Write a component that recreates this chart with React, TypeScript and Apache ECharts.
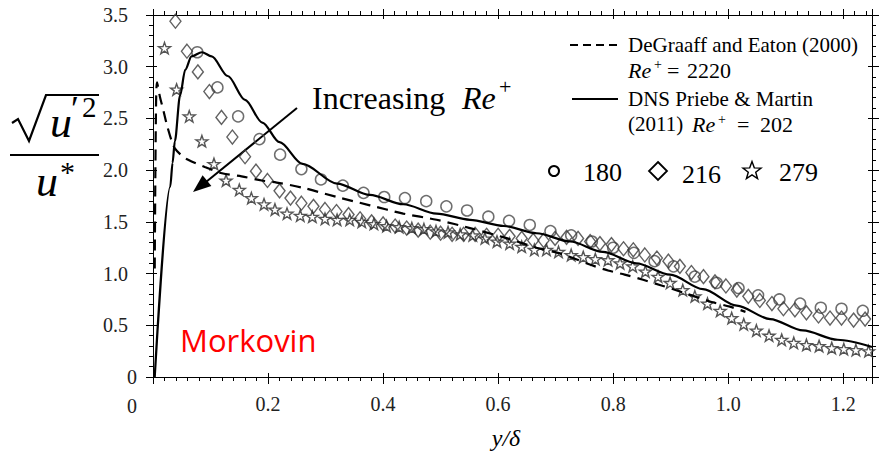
import React, { useEffect, useRef } from 'react';
import * as echarts from 'echarts';

// Experimental data, Re+ = 180 (circles)
const circle180: [number, number][] = [
  [0.077, 3.14], [0.112, 2.8], [0.148, 2.52], [0.185, 2.3], [0.221, 2.15], [0.258, 2.01],
  [0.292, 1.91], [0.33, 1.85], [0.366, 1.78], [0.402, 1.74], [0.438, 1.73], [0.475, 1.7],
  [0.51, 1.65], [0.546, 1.61], [0.583, 1.55], [0.619, 1.51], [0.655, 1.47], [0.691, 1.41],
  [0.727, 1.37], [0.763, 1.31], [0.8, 1.25], [0.836, 1.2], [0.872, 1.12], [0.905, 1.07],
  [0.942, 0.97], [0.98, 0.91], [1.018, 0.86], [1.052, 0.79], [1.089, 0.75], [1.125, 0.71],
  [1.161, 0.67], [1.197, 0.66], [1.234, 0.64],
];

// Re+ = 216 (diamonds)
const diamond216: [number, number][] = [
  [0.039, 3.44], [0.059, 3.15], [0.078, 2.95], [0.098, 2.76], [0.119, 2.51], [0.138, 2.32],
  [0.16, 2.13], [0.179, 1.99], [0.199, 1.9], [0.22, 1.8], [0.239, 1.73], [0.258, 1.68],
  [0.279, 1.65], [0.299, 1.62], [0.319, 1.6], [0.34, 1.57], [0.36, 1.53], [0.38, 1.5],
  [0.4, 1.48], [0.421, 1.46], [0.441, 1.44], [0.461, 1.42], [0.482, 1.4], [0.5, 1.39],
  [0.52, 1.38], [0.54, 1.38], [0.56, 1.38], [0.58, 1.37], [0.6, 1.37], [0.62, 1.36],
  [0.641, 1.34], [0.661, 1.32], [0.679, 1.32], [0.699, 1.34], [0.719, 1.35], [0.739, 1.34],
  [0.76, 1.31], [0.777, 1.29], [0.797, 1.28], [0.818, 1.24], [0.835, 1.23], [0.855, 1.18],
  [0.876, 1.15], [0.896, 1.12], [0.916, 1.07], [0.936, 1.01], [0.957, 0.97], [0.977, 0.92],
  [0.996, 0.88], [1.015, 0.84], [1.035, 0.78], [1.055, 0.74], [1.076, 0.71], [1.096, 0.66],
  [1.116, 0.65], [1.136, 0.62], [1.157, 0.59], [1.177, 0.57], [1.197, 0.57], [1.218, 0.55],
  [1.238, 0.56],
];

// Re+ = 279 (stars)
const star279: [number, number][] = [
  [0.02, 3.18], [0.041, 2.78], [0.063, 2.52], [0.085, 2.28], [0.106, 2.06], [0.127, 1.9],
  [0.15, 1.81], [0.171, 1.73], [0.193, 1.67], [0.212, 1.62], [0.233, 1.58], [0.256, 1.56],
  [0.277, 1.55], [0.299, 1.53], [0.32, 1.52], [0.342, 1.52], [0.363, 1.5], [0.384, 1.48],
  [0.406, 1.46], [0.428, 1.45], [0.45, 1.44], [0.471, 1.43], [0.492, 1.41], [0.513, 1.4],
  [0.534, 1.38], [0.556, 1.37], [0.577, 1.34], [0.598, 1.31], [0.62, 1.29], [0.641, 1.26],
  [0.663, 1.23], [0.684, 1.23], [0.705, 1.21], [0.727, 1.18], [0.748, 1.16], [0.769, 1.14],
  [0.791, 1.13], [0.812, 1.1], [0.834, 1.07], [0.856, 1.02], [0.878, 0.97], [0.899, 0.91],
  [0.921, 0.84], [0.942, 0.78], [0.964, 0.71], [0.986, 0.64], [1.006, 0.57], [1.027, 0.51],
  [1.049, 0.45], [1.071, 0.4], [1.093, 0.36], [1.114, 0.33], [1.136, 0.31], [1.158, 0.3],
  [1.18, 0.28], [1.201, 0.27], [1.222, 0.26], [1.244, 0.25],
];

// DNS Priebe & Martin (2011), Re+ = 202 (solid)
const dnsLine: [number, number][] = [
  [0.003, 0], [0.03, 1.84], [0.034, 2.07], [0.038, 2.28], [0.047, 2.72], [0.056, 2.97],
  [0.067, 3.1], [0.085, 3.14], [0.102, 3.1], [0.13, 2.91], [0.16, 2.68], [0.19, 2.46],
  [0.22, 2.27], [0.26, 2.06], [0.32, 1.87], [0.377, 1.76], [0.435, 1.67], [0.493, 1.58],
  [0.551, 1.52], [0.61, 1.46], [0.667, 1.39], [0.725, 1.31], [0.782, 1.21], [0.84, 1.1],
  [0.899, 0.99], [0.956, 0.85], [1.015, 0.69], [1.073, 0.56], [1.13, 0.45], [1.19, 0.36],
  [1.25, 0.29],
];

// DeGraaff and Eaton (2000), Re+ = 2220 (dashed)
const degraaffLine: [number, number][] = [
  [0.003, 1.05], [0.005, 2.5], [0.007, 2.85], [0.012, 2.71], [0.018, 2.58], [0.024, 2.44],
  [0.032, 2.29], [0.038, 2.21], [0.05, 2.14], [0.061, 2.1], [0.09, 2.03], [0.12, 1.97],
  [0.154, 1.94], [0.189, 1.9], [0.215, 1.88], [0.26, 1.83], [0.32, 1.74], [0.377, 1.66],
  [0.435, 1.58], [0.493, 1.52], [0.551, 1.44], [0.61, 1.35], [0.667, 1.25], [0.704, 1.2],
  [0.73, 1.15], [0.763, 1.08], [0.791, 1.03], [0.82, 0.99], [0.852, 0.94], [0.881, 0.89],
  [0.92, 0.82], [0.968, 0.73], [1.003, 0.68], [1.03, 0.63],
];

const X_MIN = 0;
const X_MAX = 1.25;
const X_STEP = 0.2;
const X_MINOR = 0.02;
const Y_MIN = 0;
const Y_MAX = 3.5;
const Y_STEP = 0.5;
const Y_MINOR = 0.1;

const SERIF = 'Liberation Serif';
const STAR_PATH =
  'path://M0,-95L22.3,-30.7L90.4,-29.4L36.1,11.7L55.8,76.9L0,38L-55.8,76.9L-36.1,11.7L-90.4,-29.4L-22.3,-30.7Z';

const fmtX = (v: number) => {
  if (v === 0) return '';
  const k = v / X_STEP;
  if (Math.abs(k - Math.round(k)) > 1e-6) return '';
  return v.toFixed(1);
};
const fmtY = (v: number) => (v === 0 ? '' : v.toFixed(1));

function starPoints(cx: number, cy: number, R: number, r: number) {
  const pts: number[][] = [];
  for (let i = 0; i < 10; i++) {
    const a = (-90 + i * 36) * (Math.PI / 180);
    const rr = i % 2 === 0 ? R : r;
    pts.push([cx + rr * Math.cos(a), cy + rr * Math.sin(a)]);
  }
  return pts;
}

function txt(x: number, y: number, text: string, fontSize: number, opts: any = {}) {
  const style: any = {
    text,
    fill: opts.fill || '#000',
    textAlign: opts.align || 'left',
    textVerticalAlign: 'middle',
  };
  if (opts.italic) {
    style.font = `italic ${fontSize}px Liberation Serif`;
  } else {
    style.fontSize = fontSize;
    style.fontFamily = opts.fontFamily || SERIF;
  }
  return { type: 'text', x, y, z: 10, style };
}

function mkX(position: string, interval: number, inside: boolean, length: number, showLine: boolean, labels: boolean) {
  return {
    type: 'value',
    position,
    min: X_MIN,
    max: X_MAX,
    interval,
    axisLine: { show: showLine, onZero: false, lineStyle: { color: '#000', width: 1 } },
    axisTick: { show: true, inside, length, lineStyle: { color: '#000', width: 1 } },
    axisLabel: labels
      ? { show: true, formatter: fmtX, fontFamily: SERIF, fontSize: 20, color: '#222', margin: 17 }
      : { show: false },
    splitLine: { show: false },
  };
}
function mkY(position: string, interval: number, inside: boolean, length: number, showLine: boolean, labels: boolean) {
  return {
    type: 'value',
    position,
    min: Y_MIN,
    max: Y_MAX,
    interval,
    axisLine: { show: showLine, onZero: false, lineStyle: { color: '#000', width: 1 } },
    axisTick: { show: true, inside, length, lineStyle: { color: '#000', width: 1 } },
    axisLabel: labels
      ? { show: true, formatter: fmtY, fontFamily: SERIF, fontSize: 20, color: '#222', margin: 25 }
      : { show: false },
    splitLine: { show: false },
  };
}

export default function App() {
  const ref = useRef<HTMLDivElement>(null);
  useEffect(() => {
    if (!ref.current) return;
    const chart = echarts.init(ref.current, undefined, { renderer: 'svg' });
    const markerStyle = (c: string, w: number) => ({ color: 'rgba(0,0,0,0)', borderColor: c, borderWidth: w });
    const option: any = {
      animation: false,
      backgroundColor: '#fff',
      grid: { left: 153, top: 15, right: 18, bottom: 76, containLabel: false },
      xAxis: [
        mkX('bottom', X_STEP, false, 7, true, true),
        mkX('bottom', X_STEP, true, 4, false, false),
        mkX('bottom', X_MINOR, false, 4, false, false),
        mkX('top', X_STEP, false, 6, true, false),
        mkX('top', X_STEP, true, 4, false, false),
        mkX('top', X_MINOR, false, 4, false, false),
      ],
      yAxis: [
        mkY('left', Y_STEP, false, 7, true, true),
        mkY('left', Y_STEP, true, 4, false, false),
        mkY('left', Y_MINOR, false, 4, false, false),
        mkY('right', Y_STEP, false, 7, true, false),
        mkY('right', Y_STEP, true, 4, false, false),
        mkY('right', Y_MINOR, false, 4, false, false),
      ],
      series: [
        {
          type: 'scatter',
          name: '180',
          data: circle180,
          symbol: 'circle',
          symbolSize: 11,
          itemStyle: markerStyle('#4a4a4a', 1.5),
          silent: true,
          z: 3,
        },
        {
          type: 'scatter',
          name: '216',
          data: diamond216,
          symbol: 'diamond',
          symbolSize: [11, 14],
          itemStyle: markerStyle('#3a3a3a', 1.4),
          silent: true,
          z: 3,
        },
        {
          type: 'scatter',
          name: '279',
          data: star279,
          symbol: STAR_PATH,
          symbolKeepAspect: true,
          symbolSize: 12,
          itemStyle: markerStyle('#2a2a2a', 1.4),
          silent: true,
          z: 3,
        },
        {
          type: 'line',
          name: 'DNS',
          data: dnsLine,
          showSymbol: false,
          smooth: 0.3,
          smoothMonotone: 'x',
          lineStyle: { color: '#000', width: 2.2 },
          silent: true,
          z: 4,
        },
        {
          type: 'line',
          name: 'DeGraaff',
          data: degraaffLine,
          showSymbol: false,
          smooth: 0.3,
          lineStyle: { color: '#000', width: 2.2, type: [11, 7] },
          silent: true,
          z: 4,
        },
      ],
      graphic: [
        // y-axis title: sqrt(u'^2) / u*
        {
          type: 'polyline',
          shape: { points: [[12, 123], [18, 119], [29, 141], [46, 95], [99, 95]] },
          style: { stroke: '#000', lineWidth: 2.2, fill: 'none' },
        },
        txt(50, 122, 'u', 44, { italic: true }),
        txt(71, 109, '′', 36),
        txt(82, 107, '2', 29),
        { type: 'line', shape: { x1: 10, y1: 155, x2: 99, y2: 155 }, style: { stroke: '#000', lineWidth: 2 } },
        txt(36, 181, 'u', 44, { italic: true }),
        txt(60, 171, '*', 30),
        // zero labels
        txt(132, 377, '0', 20, { align: 'center', fill: '#222' }),
        txt(132, 406, '0', 20, { align: 'center', fill: '#222' }),
        // x-axis title
        txt(506, 438, 'y/δ', 24, { italic: true, align: 'center' }),
        // annotation
        txt(312, 98, 'Increasing', 32),
        txt(462, 98, 'Re', 32, { italic: true }),
        txt(499, 86, '+', 22),
        {
          type: 'line',
          shape: { x1: 297, y1: 108, x2: 206, y2: 182 },
          style: { stroke: '#000', lineWidth: 2 },
        },
        {
          type: 'polygon',
          shape: { points: [[193, 192], [211.4, 186.1], [202.6, 175.3]] },
          style: { fill: '#000' },
        },
        txt(180, 340, 'Morkovin', 31, { fontFamily: 'Open Sans', fill: '#ff0000' }),
        // legend
        {
          type: 'line',
          shape: { x1: 570, y1: 45, x2: 618, y2: 45 },
          style: { stroke: '#000', lineWidth: 2, lineDash: [8, 5] },
        },
        txt(628, 45, 'DeGraaff and Eaton (2000)', 21),
        txt(628, 70, 'Re', 22, { italic: true }),
        txt(654, 64, '+', 14),
        txt(667, 70, '=', 22),
        txt(687, 70, '2220', 22),
        {
          type: 'line',
          shape: { x1: 572, y1: 99, x2: 618, y2: 99 },
          style: { stroke: '#000', lineWidth: 2.2 },
        },
        txt(628, 99, 'DNS Priebe & Martin', 21),
        txt(628, 124, '(2011)', 21),
        txt(692, 124, 'Re', 22, { italic: true }),
        txt(718, 119, '+', 14),
        txt(737, 124, '=', 22),
        txt(760, 124, '202', 22),
        {
          type: 'circle',
          shape: { cx: 554, cy: 171, r: 5 },
          style: { fill: 'none', stroke: '#000', lineWidth: 2 },
        },
        txt(583, 172, '180', 26),
        {
          type: 'polygon',
          shape: { points: [[658, 162], [667, 171], [658, 180], [649, 171]] },
          style: { fill: 'none', stroke: '#000', lineWidth: 1.8 },
        },
        txt(682, 174, '216', 26),
        {
          type: 'polygon',
          shape: { points: starPoints(752, 171, 9.5, 3.9) },
          style: { fill: 'none', stroke: '#000', lineWidth: 1.4 },
        },
        txt(779, 172, '279', 26),
      ],
    };
    chart.setOption(option);
    return () => chart.dispose();
  }, []);
  return (
    <div
      ref={ref}
      style={{ position: 'absolute', left: 0, top: 0, width: 890, height: 453, background: '#fff' }}
    />
  );
}
